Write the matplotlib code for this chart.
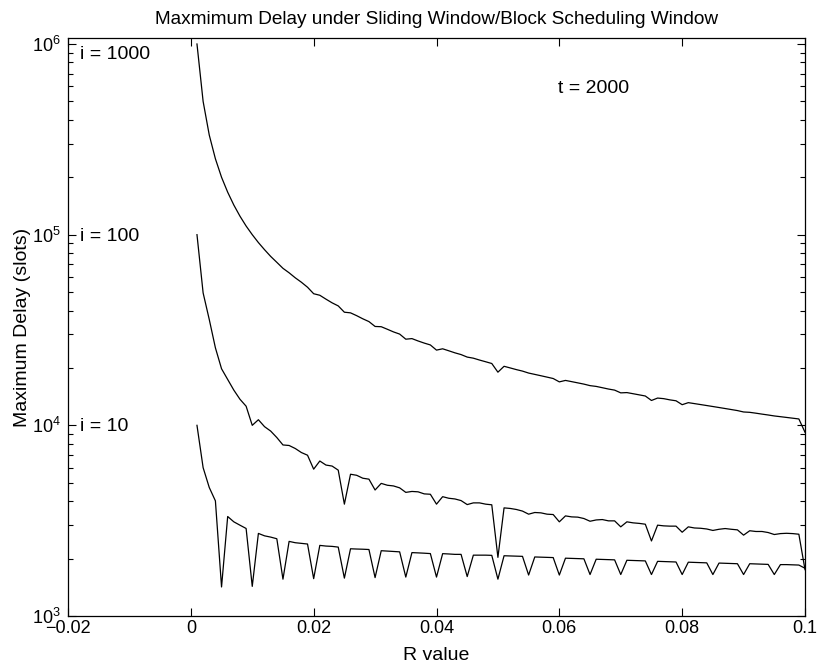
import matplotlib
matplotlib.use("Agg")
import matplotlib.pyplot as plt
from matplotlib.ticker import LogLocator, FixedLocator, FixedFormatter

plt.rcParams['font.family'] = ['Liberation Sans', 'DejaVu Sans']
plt.rcParams['mathtext.fontset'] = 'custom'
plt.rcParams['mathtext.rm'] = 'Liberation Sans'
plt.rcParams['font.size'] = 13

# R values 0.001 .. 0.100
r_value = [
    0.001, 0.002, 0.003, 0.004, 0.005, 0.006, 0.007, 0.008, 0.009, 0.010,
    0.011, 0.012, 0.013, 0.014, 0.015, 0.016, 0.017, 0.018, 0.019, 0.020,
    0.021, 0.022, 0.023, 0.024, 0.025, 0.026, 0.027, 0.028, 0.029, 0.030,
    0.031, 0.032, 0.033, 0.034, 0.035, 0.036, 0.037, 0.038, 0.039, 0.040,
    0.041, 0.042, 0.043, 0.044, 0.045, 0.046, 0.047, 0.048, 0.049, 0.050,
    0.051, 0.052, 0.053, 0.054, 0.055, 0.056, 0.057, 0.058, 0.059, 0.060,
    0.061, 0.062, 0.063, 0.064, 0.065, 0.066, 0.067, 0.068, 0.069, 0.070,
    0.071, 0.072, 0.073, 0.074, 0.075, 0.076, 0.077, 0.078, 0.079, 0.080,
    0.081, 0.082, 0.083, 0.084, 0.085, 0.086, 0.087, 0.088, 0.089, 0.090,
    0.091, 0.092, 0.093, 0.094, 0.095, 0.096, 0.097, 0.098, 0.099, 0.100,
]

delay_i1000 = [
    1000000, 500000, 333000, 250000, 200000, 167000, 143000, 125000, 111000, 100000,
    90900, 83400, 76900, 71600, 66600, 63100, 59400, 56300, 53000, 49000,
    48100, 45900, 43900, 42300, 39200, 38900, 37600, 36200, 35000, 33000,
    32900, 31900, 30900, 30100, 28300, 28500, 27700, 27000, 26400, 24800,
    25200, 24600, 24000, 23500, 22800, 22500, 22000, 21550, 21100, 19000,
    20400, 20000, 19600, 19250, 18800, 18500, 18200, 17900, 17600, 16900,
    17200, 16950, 16700, 16450, 16150, 16000, 15750, 15500, 15300, 14800,
    14850, 14650, 14450, 14250, 13500, 13900, 13800, 13600, 13450, 12830,
    13150, 13000, 12850, 12700, 12550, 12400, 12250, 12100, 11950, 11750,
    11700, 11580, 11450, 11330, 11200, 11100, 11000, 10900, 10800, 9200,
]

delay_i100 = [
    100000, 49500, 35900, 25500, 19800, 17400, 15300, 13700, 12600, 10000,
    10700, 9840, 9330, 8630, 7890, 7840, 7560, 7200, 6970, 5890,
    6500, 6190, 6115, 5820, 3860, 5540, 5470, 5280, 5220, 4580,
    4960, 4850, 4810, 4700, 4450, 4500, 4480, 4370, 4350, 3860,
    4225, 4145, 4110, 4030, 3840, 3920, 3920, 3860, 3830, 2030,
    3690, 3665, 3620, 3550, 3420, 3490, 3475, 3420, 3405, 3118,
    3350, 3310, 3300, 3245, 3140, 3190, 3205, 3155, 3155, 2935,
    3118, 3080, 3060, 3030, 2475, 2995, 2970, 2960, 2960, 2750,
    2935, 2895, 2885, 2860, 2810, 2850, 2875, 2850, 2830, 2655,
    2800, 2775, 2775, 2740, 2675, 2705, 2715, 2705, 2685, 1750,
]

delay_i10 = [
    10000, 6000, 4720, 4017, 1420, 3325, 3118, 2994, 2878, 1430,
    2711, 2633, 2593, 2542, 1560, 2462, 2423, 2404, 2385, 1570,
    2346, 2327, 2318, 2298, 1580, 2252, 2245, 2240, 2232, 1590,
    2200, 2190, 2180, 2170, 1600, 2150, 2143, 2135, 2125, 1600,
    2123, 2115, 2105, 2105, 1610, 2085, 2085, 2085, 2080, 1560,
    2070, 2065, 2060, 2055, 1640, 2040, 2035, 2030, 2025, 1640,
    2010, 2005, 2000, 1995, 1650, 1985, 1980, 1975, 1970, 1650,
    1960, 1955, 1950, 1945, 1650, 1935, 1930, 1925, 1920, 1650,
    1915, 1910, 1905, 1900, 1650, 1895, 1890, 1885, 1880, 1650,
    1880, 1875, 1870, 1865, 1650, 1860, 1860, 1855, 1850, 1780,
]

labels = ["i = 1000", "i = 100", "i = 10"]

fig = plt.figure(figsize=(8.17, 6.66), dpi=100)
ax = fig.add_axes([68 / 817, 50 / 666, 737 / 817, 578 / 666])

for y in (delay_i1000, delay_i100, delay_i10):
    ax.plot(r_value, y, color='black', linewidth=0.9)

ax.set_yscale('log')
ax.set_xlim(-0.02, 0.1)
ax.set_ylim(1e3, 10 ** (6 + 6 / 191))

xt = [-0.02, 0, 0.02, 0.04, 0.06, 0.08, 0.1]
ax.xaxis.set_major_locator(FixedLocator(xt))
ax.xaxis.set_major_formatter(FixedFormatter(['\u22120.02', '0', '0.02', '0.04', '0.06', '0.08', '0.1']))
ax.yaxis.set_major_locator(LogLocator(base=10, numticks=10))
ax.yaxis.set_minor_locator(LogLocator(base=10, subs=range(2, 10), numticks=20))

ax.tick_params(which='both', direction='in', top=True, right=True, labelsize=13)
ax.tick_params(which='major', length=6, width=0.8)
ax.tick_params(which='minor', length=3.5, width=0.8)
ax.tick_params(axis='y', pad=5)
ax.tick_params(axis='x', pad=3)
for s in ax.spines.values():
    s.set_linewidth(0.9)

ax.set_xlabel("R value", fontsize=14, labelpad=7)
ax.set_ylabel("Maximum Delay (slots)", fontsize=14, labelpad=1)
ax.set_title("Maxmimum Delay under Sliding Window/Block Scheduling Window", fontsize=13.7, pad=10)

ax.text(0.016, 0.9706, labels[0], transform=ax.transAxes, va='center', ha='left', fontsize=14)
ax.text(0.016, 0.656, labels[1], transform=ax.transAxes, va='center', ha='left', fontsize=14)
ax.text(0.016, 0.327, labels[2], transform=ax.transAxes, va='center', ha='left', fontsize=14)
ax.text(0.665, 0.913, "t = 2000", transform=ax.transAxes, va='center', ha='left', fontsize=14)

fig.savefig("out.png", dpi=100)
